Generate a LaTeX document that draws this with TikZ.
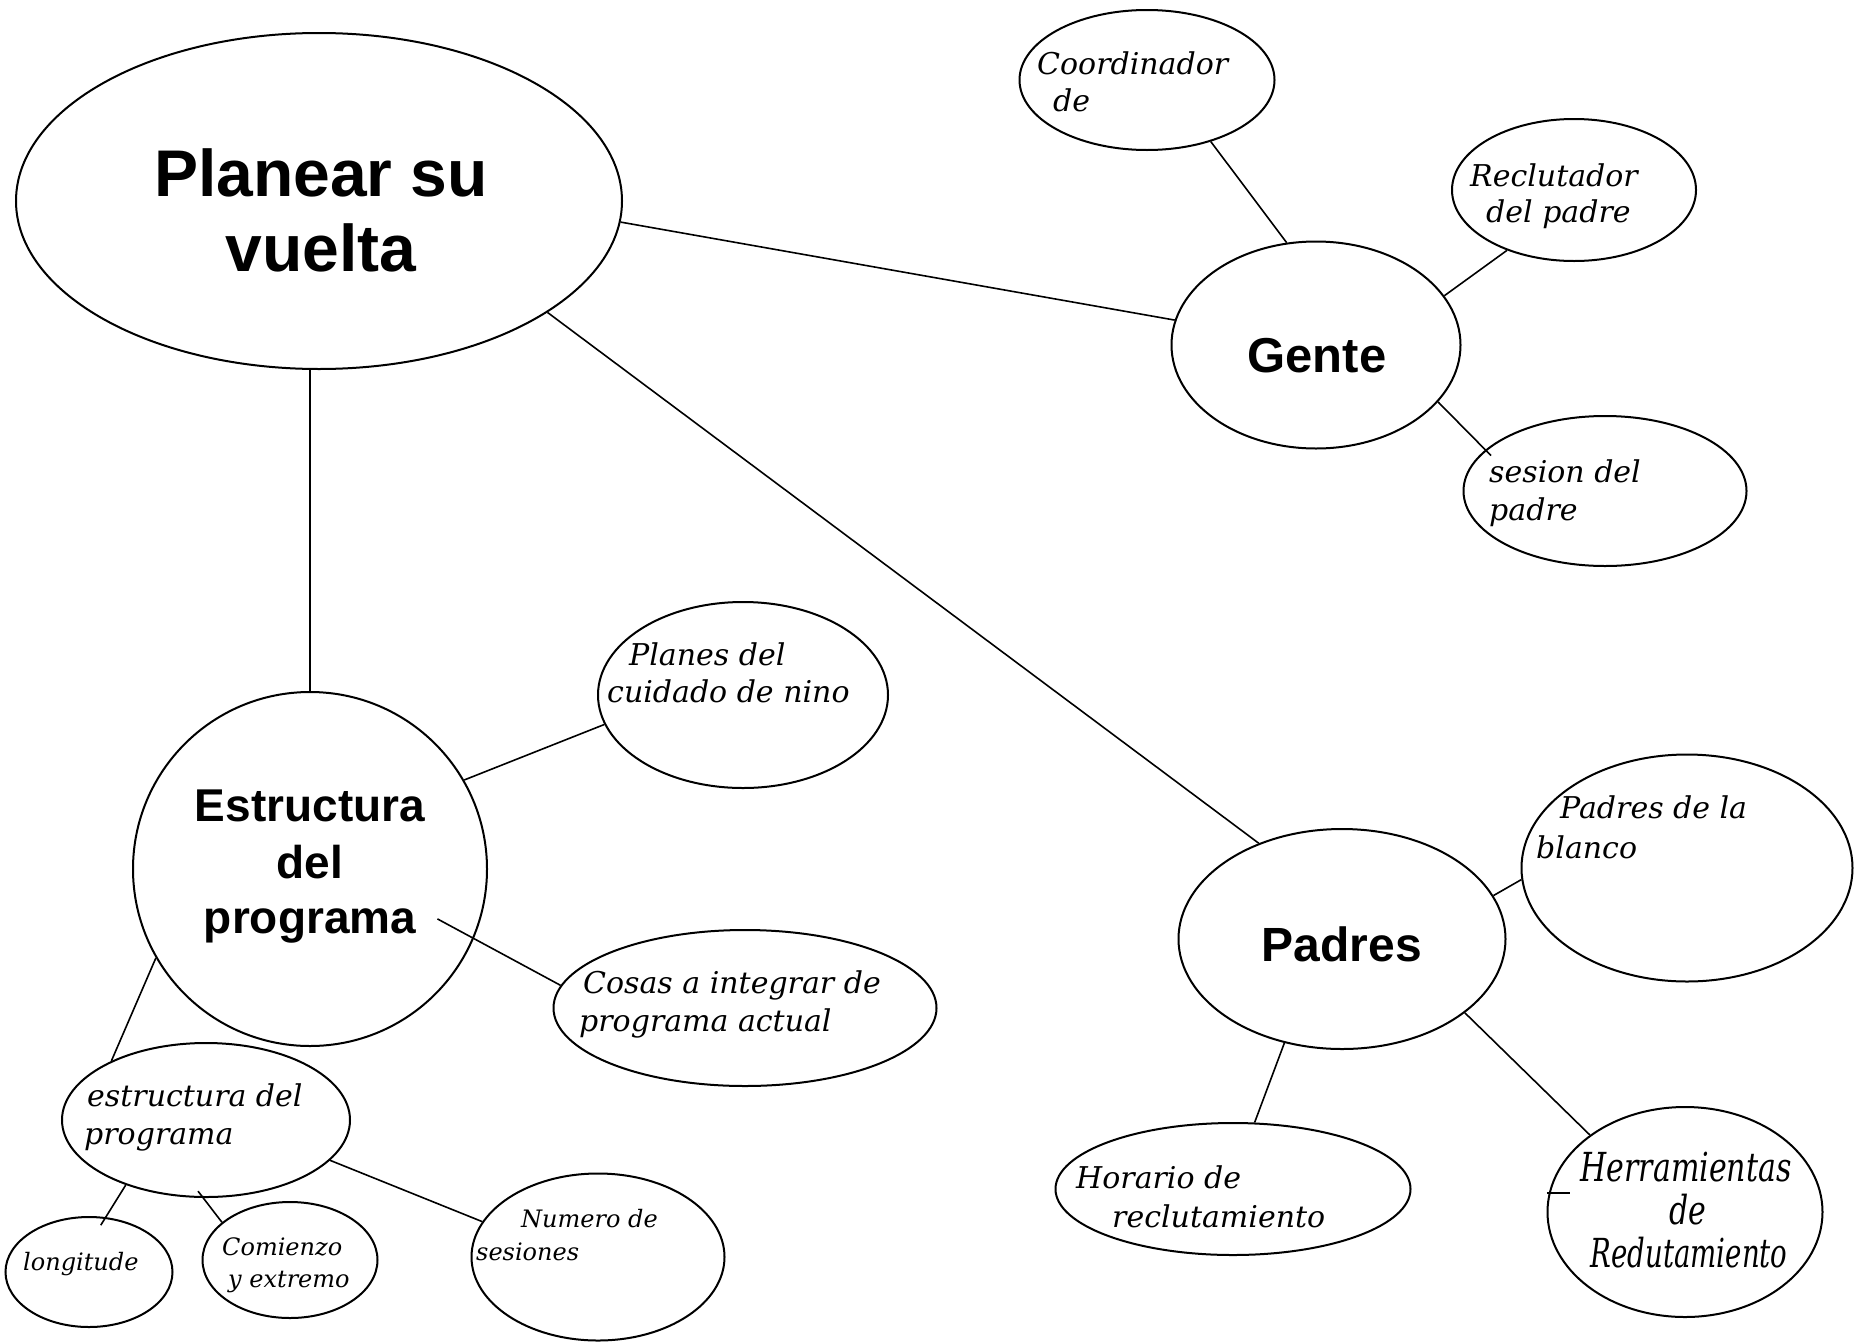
\documentclass[tikz,border=0pt]{standalone}
\usepackage{fontspec}
\setmainfont{DejaVu Serif}
\newfontfamily\bsans{Liberation Sans}
\newfontfamily\condserif[FakeStretch=0.75]{DejaVu Serif}
\newfontfamily\condserifb[FakeStretch=0.69]{DejaVu Serif}
\usetikzlibrary{shapes.geometric,calc}
\tikzset{
 ell/.style={draw, ellipse, line width=2pt, inner sep=0pt},
 conn/.style={line width=1.6pt},
 lbl/.style={anchor=base west, inner sep=0pt, font=\fontsize{30}{34}\selectfont\itshape},
 lbls/.style={anchor=base west, inner sep=0pt, font=\fontsize{24}{28}\selectfont\itshape},
 lblc/.style={anchor=base, inner sep=0pt, font=\condserif\fontsize{40}{44}\selectfont\itshape},
 ttl/.style={anchor=base, inner sep=0pt, font=\bsans\bfseries\fontsize{48}{56}\selectfont},
}
\begin{document}
\begin{tikzpicture}[x=1pt,y=-1pt]
\fill[white] (0,0) rectangle (1865,1341);
\useasboundingbox (0,0) rectangle (1865,1341);
% ellipses
\node[ell, minimum width=606pt, minimum height=336pt] (P) at (319,201) {};
\node[ell, minimum width=289pt, minimum height=207pt] (G) at (1316,345) {};
\node[ell, minimum width=255pt, minimum height=140pt] (C) at (1147,80) {};
\node[ell, minimum width=244pt, minimum height=142pt] (R) at (1574,190) {};
\node[ell, minimum width=283pt, minimum height=150pt] (S) at (1605,491) {};
\node[ell, minimum width=354pt, minimum height=354pt] (E) at (310,869) {};
\node[ell, minimum width=290pt, minimum height=186pt] (PL) at (743,695) {};
\node[ell, minimum width=383pt, minimum height=156pt] (CO) at (745,1008) {};
\node[ell, minimum width=288pt, minimum height=154pt] (SE) at (206,1120) {};
\node[ell, minimum width=167pt, minimum height=110pt] (L) at (89,1272) {};
\node[ell, minimum width=175pt, minimum height=116pt] (CM) at (290,1260) {};
\node[ell, minimum width=253pt, minimum height=167pt] (N) at (598,1257) {};
\node[ell, minimum width=327pt, minimum height=220pt] (PA) at (1342,939) {};
\node[ell, minimum width=331pt, minimum height=227pt] (B) at (1687,868) {};
\node[ell, minimum width=355pt, minimum height=132pt] (H) at (1233,1189) {};
\node[ell, minimum width=275pt, minimum height=210pt] (HE) at (1685,1212) {};
% titles
\node[ttl, font=\bsans\bfseries\fontsize{66}{75}\selectfont] (tP1) at (321,196) {Planear su};
\node[ttl, font=\bsans\bfseries\fontsize{66}{75}\selectfont] (tP2) at (321,271) {vuelta};
\node[ttl, font=\bsans\bfseries\fontsize{49}{56}\selectfont] (tG) at (1317,372) {Gente};
\node[ttl] (tPA) at (1342,961) {Padres};
\node[ttl, font=\bsans\bfseries\fontsize{46}{56}\selectfont] (tE1) at (310,821) {Estructura};
\node[ttl, font=\bsans\bfseries\fontsize{46}{56}\selectfont] (tE2) at (310,878) {del};
\node[ttl, font=\bsans\bfseries\fontsize{46}{56}\selectfont] (tE3) at (310,933) {programa};
% italic labels
\node[lbl] (tC1) at (1037,74) {Coordinador};
\node[lbl] (tC2) at (1053,111) {de};
\node[lbl] (tR1) at (1470,186) {Reclutador};
\node[lbl] (tR2) at (1486,222) {del padre};
\node[lbl] (tS1) at (1489,482) {sesion del};
\node[lbl] (tS2) at (1489,520) {padre};
\node[lbl] (tPL1) at (629,665) {Planes del};
\node[lbl] (tPL2) at (607,702) {cuidado de nino};
\node[lbl] (tCO1) at (583,993) {Cosas a integrar de};
\node[lbl] (tCO2) at (579,1031) {programa actual};
\node[lbl] (tSE1) at (87,1106) {estructura del};
\node[lbl] (tSE2) at (84,1144) {programa};
\node[lbl] (tB1) at (1560,818) {Padres de la};
\node[lbl] (tB2) at (1536,858) {blanco};
\node[lbls] (tL) at (23,1270) {longitude};
\node[lbls] (tCM1) at (222,1255) {Comienzo};
\node[lbls] (tCM2) at (228,1287) {y extremo};
\node[lbls] (tN1) at (521,1227) {Numero de};
\node[lbls] (tN2) at (476,1260) {sesiones};
\node[lbl] (tH1) at (1076,1188) {Horario de};
\node[lbl] (tH2) at (1112,1227) {reclutamiento};
\node[lblc] (tHE1) at (1686,1181) {Herramientas};
\node[lblc] (tHE2) at (1688,1224) {de};
\node[lblc, font=\condserifb\fontsize{40}{44}\selectfont\itshape] (tHE3) at (1689,1267) {Redutamiento};
% connectors
\draw[conn] (P.-4) -- (G.170);
\draw[conn] (P.-26) -- (PA.131);
\draw[conn] (E.north) -- (E.north |- P.south);
\draw[conn] (C.-44.5) -- (G.106);
\draw[conn] (R.222) -- (G.21);
\draw[conn] (G.-25) -- ($(G.-25)!1.12!(S.161)$);
\draw[conn] (E.30) -- (PL.192);
\draw[conn] (CO.173) -- ($(CO.173)!1.42!(E.-23)$);
\draw[conn] (E.210) -- (SE.148);
\draw[conn] (SE.219) -- ($(SE.219)!1.25!(L.73)$);
\draw[conn] (CM.151) -- ($(CM.151)!1.28!(SE.268)$);
\draw[conn] (SE.-18) -- (N.163);
\draw[conn] (PA.16) -- (B.184);
\draw[conn] (PA.241) -- (H.72);
\draw[conn] (PA.-31) -- (HE.141);
\draw[conn] ([xshift=-2pt]HE.172) -- ++(23,0);
\end{tikzpicture}
\end{document}
